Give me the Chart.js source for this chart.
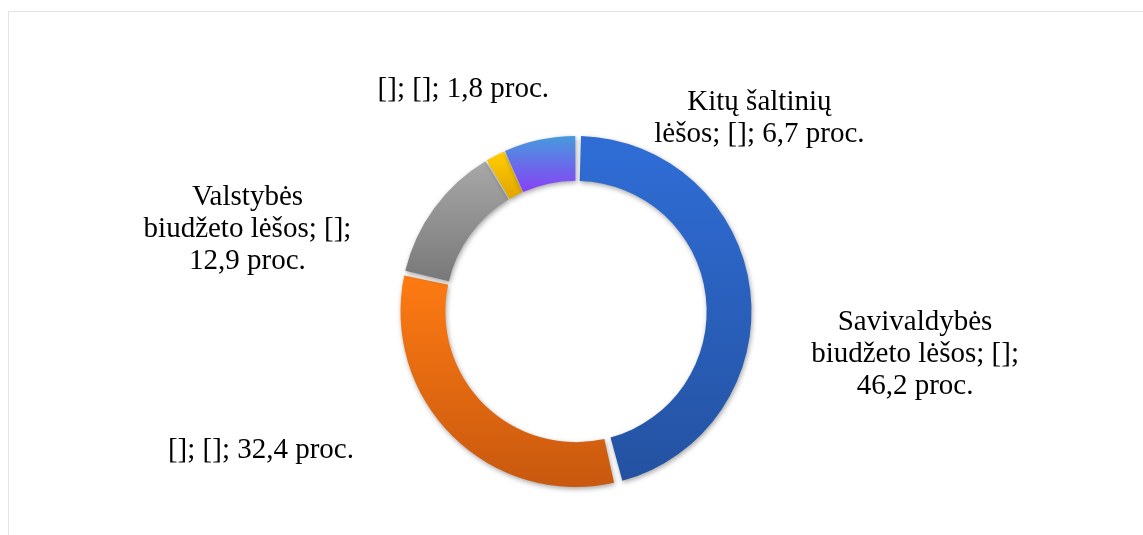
<!DOCTYPE html>
<html>
<head>
<meta charset="utf-8">
<script src="https://cdn.jsdelivr.net/npm/chart.js@4"></script>
<style>
  html, body { margin: 0; padding: 0; background: #fff; }
  #wrap { position: relative; width: 1143px; height: 535px; overflow: hidden; }
  #frame {
    position: absolute; left: 8px; top: 11px; width: 1200px; height: 600px;
    border-left: 1px solid #e1e4e9; border-top: 1px solid #e1e4e9;
  }
  #chart { position: absolute; left: 0; top: 0; }
</style>
</head>
<body>
<div id="wrap">
  <div id="frame"></div>
  <canvas id="chart" width="1143" height="535"></canvas>
</div>
<script>
// categories and values (proc.)
const categories = ['Savivaldybės biudžeto lėšos', '[]', 'Valstybės biudžeto lėšos', '[]', 'Kitų šaltinių lėšos']
const seriesNames = ['[]', '[]', '[]', '[]', '[]']
const shares = [46.2, 32.4, 12.9, 1.8, 6.7]

// top -> bottom colour of each slice gradient
const sliceColors = [
  ['#2f6dd6', '#2452a1'],
  ['#ff7b12', '#c9590f'],
  ['#a7a7a7', '#787878'],
  ['#ffcb00', '#dea300'],
  ['#4a96de', '#8c3cf8']
]
// label block centres, in units of outer radius from the ring centre
const labelOffsets = [
  [1.932, 0.244],
  [-1.795, 0.79],
  [-1.872, -0.466],
  [-0.642, -1.267],
  [1.045, -1.099]
]

const CUTOUT = 0.74
const SPACING = 6
const FONT = '29px "Liberation Serif", "Times New Roman", serif'
const LINE_H = 32
const WRAP_W = 212

function sliceBox(chart, i) {
  const a = chart.chartArea
  const cx = (a.left + a.right) / 2
  const cy = (a.top + a.bottom) / 2
  const R = (Math.min(a.right - a.left, a.bottom - a.top) - SPACING) / 2
  const r = R * CUTOUT
  const total = shares.reduce((s, v) => s + v, 0)
  let before = 0
  for (let k = 0; k < i; k++) before += shares[k]
  const a0 = -Math.PI / 2 + 2 * Math.PI * before / total
  const a1 = -Math.PI / 2 + 2 * Math.PI * (before + shares[i]) / total
  let ymin = Infinity, ymax = -Infinity
  for (let s = 0; s <= 40; s++) {
    const t = a0 + (a1 - a0) * s / 40
    for (const rad of [r, R]) {
      const y = cy + Math.sin(t) * rad
      ymin = Math.min(ymin, y)
      ymax = Math.max(ymax, y)
    }
  }
  return [ymin, ymax]
}

function fillFor(ctx) {
  const chart = ctx.chart
  const i = ctx.dataIndex
  if (!chart.chartArea || i === undefined) return sliceColors[i || 0][0]
  const [y0, y1] = sliceBox(chart, i)
  const g = chart.ctx.createLinearGradient(0, y0, 0, y1)
  g.addColorStop(0, sliceColors[i][0])
  g.addColorStop(1, sliceColors[i][1])
  return g
}

function wrap(ctx, text) {
  const words = text.split(' ')
  const lines = []
  let cur = ''
  for (const w of words) {
    const test = cur ? cur + ' ' + w : w
    if (cur && ctx.measureText(test).width > WRAP_W) {
      lines.push(cur)
      cur = w
    } else {
      cur = test
    }
  }
  if (cur) lines.push(cur)
  return lines
}

const shadowPlugin = {
  id: 'sliceShadow',
  beforeDatasetDraw(chart) {
    const c = chart.ctx
    c.save()
    c.shadowColor = 'rgba(0,0,0,0.35)'
    c.shadowBlur = 5
    c.shadowOffsetX = 1
    c.shadowOffsetY = 2
  },
  afterDatasetDraw(chart) {
    chart.ctx.restore()
  }
}

const labelPlugin = {
  id: 'outsideLabels',
  afterDatasetsDraw(chart) {
    const c = chart.ctx
    const arcs = chart.getDatasetMeta(0).data
    if (!arcs.length) return
    const cx = arcs[0].x, cy = arcs[0].y
    const R = arcs[0].outerRadius + SPACING / 2
    c.save()
    c.font = FONT
    c.fillStyle = '#000'
    c.textAlign = 'center'
    c.textBaseline = 'middle'
    categories.forEach((cat, i) => {
      const txt = cat + '; ' + seriesNames[i] + '; ' + shares[i].toFixed(1).replace('.', ',') + ' proc.'
      const lines = wrap(c, txt)
      const x = cx + labelOffsets[i][0] * R
      const y = cy + labelOffsets[i][1] * R
      const top = y - (lines.length - 1) * LINE_H / 2
      lines.forEach((ln, k) => c.fillText(ln, x, top + k * LINE_H))
    })
    c.restore()
  }
}

new Chart(document.getElementById('chart'), {
  type: 'doughnut',
  data: {
    labels: categories,
    datasets: [{
      data: shares,
      backgroundColor: fillFor,
      borderWidth: 0,
      spacing: SPACING
    }]
  },
  options: {
    responsive: false,
    animation: false,
    cutout: (CUTOUT * 100) + '%',
    layout: { padding: { top: 136, bottom: 48, left: 9, right: 0 } },
    plugins: {
      legend: { display: false },
      tooltip: { enabled: false }
    }
  },
  plugins: [shadowPlugin, labelPlugin]
})
</script>
</body>
</html>
